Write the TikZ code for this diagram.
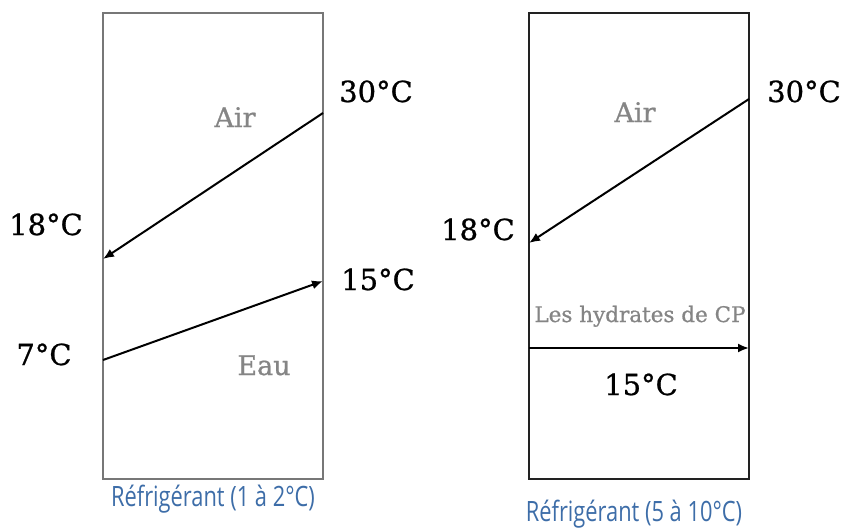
\documentclass[tikz,border=0pt]{standalone}
\usepackage{fontspec}
\usetikzlibrary{arrows.meta}
\newfontfamily\tempfont[FakeBold=0.8]{DejaVu Serif}
\newfontfamily\capfont[FakeStretch=0.78]{Open Sans}
\definecolor{lblgray}{HTML}{858585}
\definecolor{boxgray}{HTML}{777777}
\definecolor{boxdark}{HTML}{222222}
\definecolor{capblue}{HTML}{3D6DA8}
\begin{document}
\begin{tikzpicture}[x=1pt,y=-1pt,
  temp/.style={font=\tempfont\fontsize{29}{31}\selectfont, inner sep=0, anchor=base},
  fluid/.style={font=\tempfont\fontsize{27}{29}\selectfont, text=lblgray, inner sep=0, anchor=base},
  caption/.style={font=\capfont\fontsize{28}{30}\selectfont, text=capblue, inner sep=0, anchor=base},
  flow/.style={-{Latex[length=11pt,width=9pt]}, line width=2pt, black},
  boxleft/.style={draw=boxgray, line width=1.4pt, minimum width=220pt, minimum height=466pt, inner sep=0},
  boxright/.style={draw=boxdark, line width=2.2pt, minimum width=220pt, minimum height=466pt, inner sep=0}]
\useasboundingbox (0,0) rectangle (842,530);
% boxes
\node[boxleft] (L) at (213,246) {};
\node[boxright] (R) at (639,246) {};
% left connector ends
\coordinate (la1s) at (323,113);
\coordinate (la1e) at (103,259);
\coordinate (la2s) at (103,360);
\coordinate (la2e) at (323,281);
% right connector ends
\coordinate (ra1s) at (749,99);
\coordinate (ra1e) at (529,243);
\coordinate (ra2s) at (529,348);
\coordinate (ra2e) at (749,348);
% arrows
\draw[flow] (la1s) -- (la1e);
\draw[flow] (la2s) .. controls (220,318) .. (la2e);
\draw[flow] (ra1s) -- (ra1e);
\draw[flow] (ra2s) -- (ra2e);
% left labels
\node[temp] (l30) at (376,102) {30°C};
\node[temp] (l18) at (46,235) {18°C};
\node[temp] (l15) at (378,290) {15°C};
\node[temp] (l7) at (44,365) {7°C};
\node[fluid] (lair) at (235,127) {Air};
\node[fluid] (leau) at (264,375) {Eau};
\node[caption] (lcap) at (213,506) {Réfrigérant (1 à 2°C)};
% right labels
\node[temp] (r30) at (804,102) {30°C};
\node[temp] (r18) at (478,240) {18°C};
\node[temp] (r15) at (641,395) {15°C};
\node[fluid] (rair) at (635,122) {Air};
\node[fluid, font=\tempfont\fontsize{21.5}{23}\selectfont] (rhyd) at (640,322) {Les hydrates de CP};
\node[caption] (rcap) at (634,521) {Réfrigérant (5 à 10°C)};
\end{tikzpicture}
\end{document}
